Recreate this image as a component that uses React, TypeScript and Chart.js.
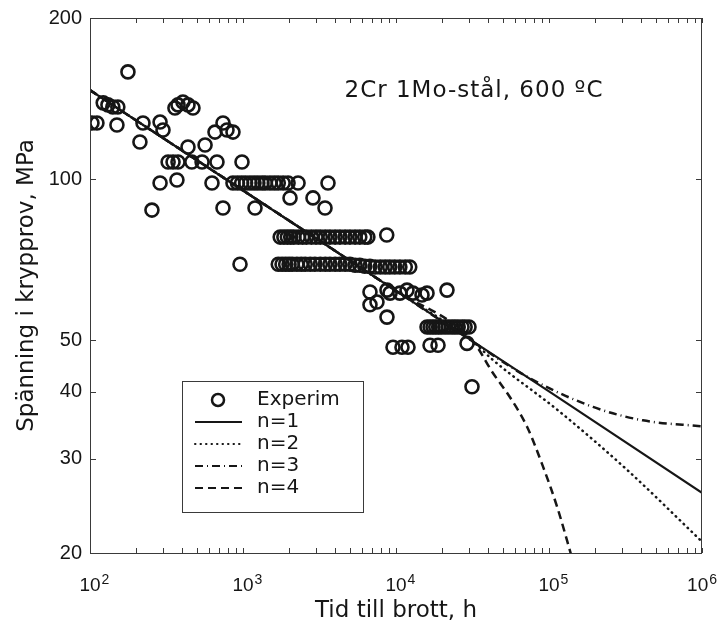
import React, { useEffect, useRef } from 'react';
import { Chart, registerables } from 'chart.js';

Chart.register(...registerables);

// ---- axis ticks ----
const decadeStarts = [100, 1000, 10000, 100000];
const decadeMultipliers = [1, 2, 3, 4, 5, 6, 7, 8, 9];
const xMax = 1000000;
const xTickValues = [...decadeStarts.flatMap((d) => decadeMultipliers.map((m) => d * m)), xMax];
const yTickValues = [20, 30, 40, 50, 100, 200];

// ---- experimental points (time h, stress MPa) ----
const expTime = [
  103, 111, 122, 131, 141, 152, 150, 177, 222, 212, 287, 300, 359, 376, 405, 437, 471, 437, 565,
  324, 349, 376, 463, 540, 676, 985, 287, 370, 627, 254, 740, 1198, 656, 740, 786, 860,
  860, 920, 980, 1040, 1110, 1180, 1250, 1330, 1400, 1500, 1600, 1700, 1830, 1970, 2290,
  3594, 2029, 2867, 3436,
  1750, 1850, 1950, 2050, 2150, 2300, 2450, 2600, 2800, 3000, 3200, 3450, 3700, 4000, 4300, 4650, 5000, 5400, 5800, 6250, 6550,
  8700, 956,
  1700, 1800, 1900, 2000, 2100, 2250, 2400, 2550, 2750, 2950, 3200, 3450, 3700, 4000, 4300, 4650, 5000, 5400, 5800, 6250,
  6750, 7300, 7900, 8500, 9100, 9800, 10600, 11500, 12300,
  6760, 8730, 9140, 10600, 11800, 12900, 14790, 15950, 21540,
  6760, 7510, 8730,
  15950, 16700, 17450, 18200, 19000, 19800, 20900, 22000, 23200, 24300, 25500, 27000, 28300, 30000,
  9560, 10940, 11980, 16690, 18820, 29110,
  31380,
];
const expStress = [
  127.3, 127.3, 138.8, 137.6, 136.4, 136.4, 126.2, 158.6, 127.3, 117.3, 127.8, 123.5, 135.8, 137.6, 139.3, 137.6, 135.8, 114.8, 115.8,
  107.6, 107.6, 107.6, 107.6, 107.6, 107.6, 107.6, 98.3, 99.6, 98.3, 87.5, 88.3, 88.3, 122.4, 127.3, 123.5, 122.4,
  98.3, 98.3, 98.3, 98.3, 98.3, 98.3, 98.3, 98.3, 98.3, 98.3, 98.3, 98.3, 98.3, 98.3, 98.3,
  98.3, 92.2, 92.2, 88.3,
  77.9, 77.9, 77.9, 77.9, 77.9, 77.9, 77.9, 77.9, 77.9, 77.9, 77.9, 77.9, 77.9, 77.9, 77.9, 77.9, 77.9, 77.9, 77.9, 77.9, 77.9,
  78.6, 69.3,
  69.3, 69.3, 69.3, 69.3, 69.3, 69.3, 69.3, 69.3, 69.3, 69.3, 69.3, 69.3, 69.3, 69.3, 69.3, 69.3, 69.3, 69.0, 69.0, 68.7,
  68.7, 68.5, 68.5, 68.5, 68.5, 68.5, 68.5, 68.5, 68.5,
  61.5, 62.0, 61.2, 61.2, 62.0, 61.2, 60.7, 61.2, 62.0,
  58.2, 58.9, 55.2,
  52.9, 52.9, 52.9, 52.9, 52.9, 52.9, 52.9, 52.9, 52.9, 52.9, 52.9, 52.9, 52.9, 52.9,
  48.5, 48.5, 48.5, 48.9, 48.9, 49.3,
  40.9,
];

// ---- model curves ----
const n1Time = [100, 1000, 10000, 100000, 1000000];
const n1Stress = [146.6, 95.2, 61.8, 40.1, 25.9];
const n2Time = [100, 10000, 32000, 43000, 118000, 324000, 1000000];
const n2Stress = [146.6, 61.8, 49.6, 45.9, 36.7, 28.6, 21.0];
const n3Time = [100, 10000, 32000, 72000, 194000, 411000, 1000000];
const n3Stress = [146.6, 61.8, 49.6, 42.7, 37.5, 35.4, 34.5];
const n4Time = [100, 10000, 32000, 43000, 55600, 72000, 91400, 113000, 142000];
const n4Stress = [146.6, 61.8, 49.6, 43.4, 39.1, 34.4, 29.0, 24.4, 19.5];

const labels = ['Experim', 'n=1', 'n=2', 'n=3', 'n=4'];
const xTitle = 'Tid till brott, h';
const yTitle = 'Spänning i krypprov, MPa';
const noteText = '2Cr 1Mo-stål, 600 ºC';

const INK = '#161616';
const zip = (xs: number[], ys: number[]) => xs.map((x, i) => ({ x, y: ys[i] }));

const framePlugin = {
  id: 'frame',
  afterDraw(chart: any) {
    const { ctx, chartArea: a, scales } = chart;
    const xs = scales.x;
    const ys = scales.y;
    ctx.save();
    // box
    ctx.strokeStyle = '#3a3a3a';
    ctx.lineWidth = 1;
    ctx.strokeRect(a.left + 0.5, a.top + 0.5, a.right - a.left - 1, a.bottom - a.top);
    // inward ticks
    ctx.beginPath();
    xs.ticks.forEach((t: any) => {
      const px = Math.round(xs.getPixelForValue(t.value)) + 0.5;
      ctx.moveTo(px, a.bottom);
      ctx.lineTo(px, a.bottom - 5);
      ctx.moveTo(px, a.top);
      ctx.lineTo(px, a.top + 5);
    });
    ys.ticks.forEach((t: any) => {
      const py = Math.round(ys.getPixelForValue(t.value)) + 0.5;
      ctx.moveTo(a.left, py);
      ctx.lineTo(a.left + 6, py);
      ctx.moveTo(a.right, py);
      ctx.lineTo(a.right - 6, py);
    });
    ctx.stroke();

    // x tick labels 10^n
    ctx.fillStyle = INK;
    ctx.textBaseline = 'alphabetic';
    const rightLimit = chart.width - 9;
    xs.ticks.forEach((t: any) => {
      const e = Math.log10(t.value);
      if (Math.abs(e - Math.round(e)) > 1e-9) return;
      const exp = String(Math.round(e));
      ctx.font = '19px "Liberation Sans", Arial, sans-serif';
      const w = ctx.measureText('10').width;
      ctx.font = '14px "Liberation Sans", Arial, sans-serif';
      const we = ctx.measureText(exp).width;
      let left = xs.getPixelForValue(t.value) - w / 2;
      if (left + w + 1 + we > rightLimit) left = rightLimit - (w + 1 + we);
      ctx.textAlign = 'left';
      ctx.font = '19px "Liberation Sans", Arial, sans-serif';
      ctx.fillText('10', left, a.bottom + 38);
      ctx.font = '14px "Liberation Sans", Arial, sans-serif';
      ctx.fillText(exp, left + w + 1, a.bottom + 31);
    });

    // annotation
    ctx.font = '23px "DejaVu Sans", sans-serif';
    ctx.textAlign = 'center';
    try { (ctx as any).letterSpacing = '1px'; } catch (e) { /* ignore */ }
    ctx.fillText(noteText, a.left + 384, a.top + 79);
    try { (ctx as any).letterSpacing = '0px'; } catch (e) { /* ignore */ }

    // legend
    const bx = a.left + 92;
    const by = a.top + 363;
    const bw = 181;
    const bh = 131;
    ctx.fillStyle = '#ffffff';
    ctx.fillRect(bx, by, bw, bh);
    ctx.strokeStyle = '#3a3a3a';
    ctx.lineWidth = 1;
    ctx.strokeRect(bx + 0.5, by + 0.5, bw, bh);
    chart.data.datasets.forEach((ds: any, i: number) => {
      const cy = by + 19 + i * 22;
      ctx.strokeStyle = INK;
      if (ds.type === 'line') {
        ctx.save();
        ctx.lineWidth = 2;
        ctx.setLineDash(ds.borderDash || []);
        ctx.lineCap = ds.borderCapStyle || 'butt';
        ctx.beginPath();
        ctx.moveTo(bx + 13, cy);
        ctx.lineTo(bx + 60, cy);
        ctx.stroke();
        ctx.restore();
      } else {
        ctx.lineWidth = 2.5;
        ctx.beginPath();
        ctx.arc(bx + 36, cy, 6, 0, Math.PI * 2);
        ctx.stroke();
      }
      ctx.fillStyle = INK;
      ctx.font = '20px "DejaVu Sans", sans-serif';
      ctx.textAlign = 'left';
      ctx.textBaseline = 'middle';
      ctx.fillText(ds.label, bx + 75, cy);
    });
    ctx.restore();
  },
};

export default function App() {
  const ref = useRef<HTMLCanvasElement | null>(null);
  useEffect(() => {
    if (!ref.current) return;
    const lineBase = {
      type: 'line' as const,
      showLine: true,
      pointRadius: 0,
      borderColor: INK,
      backgroundColor: INK,
      fill: false,
      order: 0,
    };
    const chart = new Chart(ref.current, {
      type: 'scatter',
      data: {
        datasets: [
          {
            label: labels[0],
            data: zip(expTime, expStress),
            pointRadius: 6.5,
            pointBorderWidth: 2.6,
            borderColor: INK,
            backgroundColor: 'rgba(0,0,0,0)',
            pointStyle: 'circle',
            order: 5,
          } as any,
          { ...lineBase, label: labels[1], data: zip(n1Time, n1Stress), borderWidth: 2.2, tension: 0 },
          {
            ...lineBase, label: labels[2], data: zip(n2Time, n2Stress), borderWidth: 2.5,
            borderDash: [0.5, 5], borderCapStyle: 'round', cubicInterpolationMode: 'monotone',
          },
          {
            ...lineBase, label: labels[3], data: zip(n3Time, n3Stress), borderWidth: 2.5,
            borderDash: [8, 4, 1, 4], cubicInterpolationMode: 'monotone',
          },
          {
            ...lineBase, label: labels[4], data: zip(n4Time, n4Stress), borderWidth: 2.5,
            borderDash: [8, 5], cubicInterpolationMode: 'monotone',
          },
        ] as any,
      },
      options: {
        animation: false,
        responsive: false,
        maintainAspectRatio: false,
        events: [],
        layout: { padding: { top: 10, right: 24, bottom: 0, left: 0 } },
        plugins: { legend: { display: false }, tooltip: { enabled: false } },
        scales: {
          x: {
            type: 'logarithmic',
            min: 100,
            max: xMax,
            grid: { display: false, drawTicks: false },
            border: { display: false },
            ticks: { display: false, autoSkip: false },
            afterBuildTicks: (s: any) => {
              s.ticks = xTickValues.map((v) => ({ value: v }));
            },
            afterFit: (s: any) => {
              s.height = 73;
              s.paddingLeft = 0;
              s.paddingRight = 0;
              s.paddingTop = 0;
              s.paddingBottom = 0;
            },
            title: {
              display: true,
              text: xTitle,
              color: INK,
              font: { family: '"DejaVu Sans", sans-serif', size: 23 },
              padding: { top: 0, bottom: 1 },
            },
          },
          y: {
            type: 'logarithmic',
            min: 20,
            max: 200,
            grid: { display: false, drawTicks: false },
            border: { display: false },
            ticks: {
              autoSkip: false,
              padding: 8,
              color: INK,
              font: { family: '"Liberation Sans", Arial, sans-serif', size: 20 },
              callback: (v: any) => String(v),
            },
            afterBuildTicks: (s: any) => {
              s.ticks = yTickValues.map((v) => ({ value: v }));
            },
            afterFit: (s: any) => {
              s.width = 82;
              s.paddingTop = 0;
              s.paddingBottom = 0;
              s.paddingLeft = 0;
              s.paddingRight = 0;
            },
            title: {
              display: true,
              text: yTitle,
              color: INK,
              font: { family: '"DejaVu Sans", sans-serif', size: 23 },
              padding: { top: 5, bottom: 0 },
            },
          },
        },
      } as any,
      plugins: [framePlugin],
    });
    return () => chart.destroy();
  }, []);
  return (
    <div style={{ width: 718, height: 618 }}>
      <canvas ref={ref} width={718} height={618} style={{ display: 'block' }} />
    </div>
  );
}
